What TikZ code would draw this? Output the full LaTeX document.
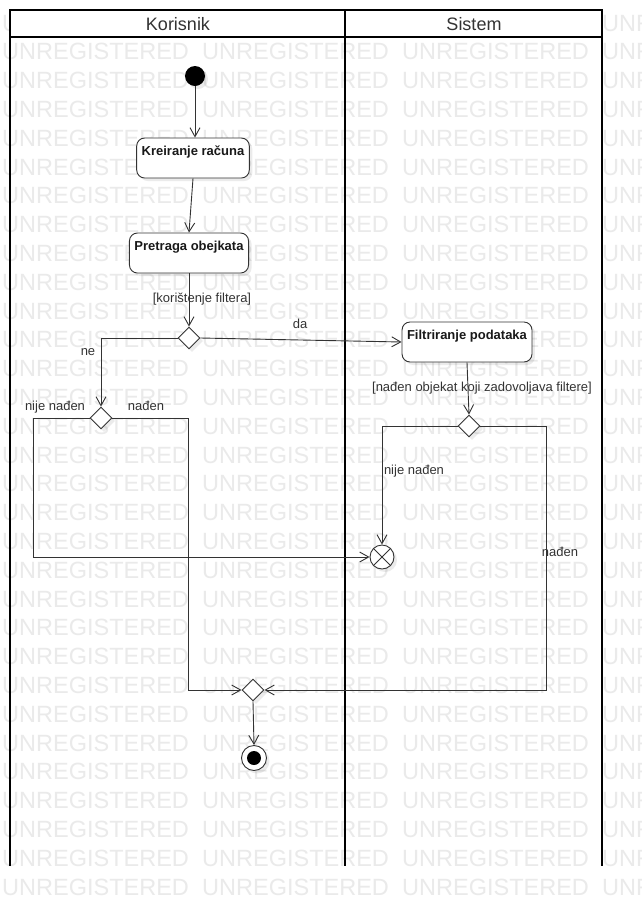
\documentclass[tikz,border=0pt]{standalone}
\usepackage{fontspec}
\setmainfont{Liberation Sans}
\usetikzlibrary{arrows.meta,shapes.geometric,shadows}
\definecolor{wmgray}{HTML}{EAEAEA}
\definecolor{ln}{HTML}{333333}
\begin{document}
\begin{tikzpicture}[x=1pt,y=-1pt,
  wm/.style={text=wmgray,font=\fontsize{23.5}{24}\selectfont,inner sep=0pt,anchor=base west},
  lane/.style={line width=2.4pt,draw=black},
  hdr/.style={font=\fontsize{18}{20}\selectfont,text=black!80},
  shd/.style={drop shadow={shadow xshift=3pt,shadow yshift=-3pt,opacity=0.08,fill=black}},
  act/.style={shape=rectangle,draw=ln,line width=0.9pt,fill=white,rounded corners=8pt,
    font=\bfseries\fontsize{13}{15}\selectfont,text=black!90,inner xsep=5pt,inner ysep=4pt,
    text height=13pt,text depth=19pt,shd},
  decision/.style={shape=diamond,draw=ln,line width=0.9pt,fill=white,minimum width=22pt,
    minimum height=22pt,inner sep=0pt,shd},
  startnode/.style={shape=circle,fill=black,minimum size=20pt,inner sep=0pt,shd},
  finalnode/.style={shape=circle,draw=ln,line width=0.9pt,fill=white,minimum size=25pt,inner sep=0pt,shd},
  finaldot/.style={shape=circle,fill=black,minimum size=14pt,inner sep=0pt},
  flowfinal/.style={shape=circle,draw=ln,line width=0.9pt,fill=white,minimum size=24pt,inner sep=0pt,shd},
  lbl/.style={font=\fontsize{13}{15}\selectfont,text=ln,inner sep=0pt},
  flow/.style={draw=ln,line width=0.9pt,-{Straight Barb[length=9pt,width=10pt]}}
]
\useasboundingbox[fill=white] (0,0) rectangle (642,906);
% watermark (top row: only the parts outside the header)
\begin{scope}
  \clip (0,0) rectangle (9,40);
  \node[wm] (w0) at (2,31) {UNR};
\end{scope}
\node[wm] (w1) at (602,31) {UNREGISTERED};
\foreach \i in {1,...,30}{
  \foreach \xx in {2,202,402,602}{
    \node[wm] at (\xx,{31+28.8*\i}) {UNREGISTERED};
  }
}
% swimlanes
\draw[lane,fill=white] (10,10) rectangle (602,37);
\draw[lane] (10,10) -- (10,866);
\draw[lane] (345,10) -- (345,866);
\draw[lane] (602,10) -- (602,866);
\node[hdr] (h1) at (178,24) {Korisnik};
\node[hdr] (h2) at (474,24) {Sistem};
% nodes
\node[startnode] (s) at (195,76) {};
\node[act] (k) at (193,158) {Kreiranje računa};
\node[act] (p) at (189,253) {Pretraga obejkata};
\node[decision] (d1) at (189,338) {};
\node[act] (f) at (467,342) {Filtriranje podataka};
\node[decision] (d2) at (101,418) {};
\node[decision] (d3) at (469,426) {};
\node[flowfinal] (ff) at (382,557) {};
\draw[ln,line width=0.9pt] (ff.45) -- (ff.225) (ff.135) -- (ff.315);
\node[decision] (m) at (253,690) {};
\node[finalnode] (fin) at (254,758) {};
\node[finaldot] (findot) at (fin.center) {};
% connectors
\draw[flow] (s.south) -- (s.south |- k.north);
\draw[flow] (k.south) -- (p.north);
\draw[flow] (p.south) -- (d1.north);
\draw[flow] (d1.east) -- (f.west);
\draw[flow] (d1.west) -| (d2.north);
\draw[flow] (d2.west) -- ++(-56,0) |- (ff.west);
\draw[flow] (d2.east) -- ++(76,0) |- (m.west);
\draw[flow] (f.south) -- (d3.north);
\draw[flow] (d3.west) -| (ff.north);
\draw[flow] (d3.east) -- ++(66,0) |- (m.east);
\draw[flow] (m.south) -- (fin.north);
% labels
\node[lbl] (l1) at (202,299) {[korištenje filtera]};
\node[lbl] (l2) at (300,324) {da};
\node[lbl] (l3) at (88,352) {ne};
\node[lbl] (l4) at (55,407) {nije nađen};
\node[lbl] (l5) at (146,406) {nađen};
\node[lbl] (l6) at (482,388) {[nađen objekat koji zadovoljava filtere]};
\node[lbl] (l7) at (414,471) {nije nađen};
\node[lbl] (l8) at (560,552) {nađen};
\end{tikzpicture}
\end{document}
